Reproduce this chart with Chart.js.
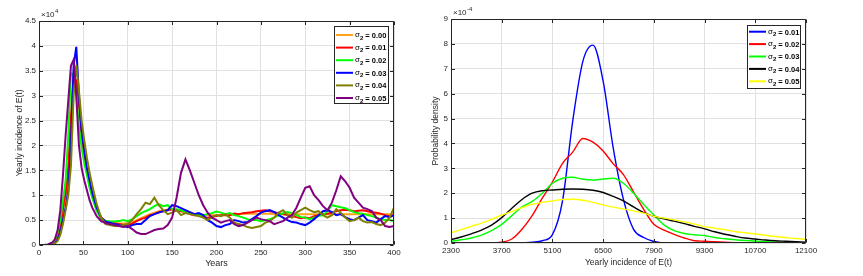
<!DOCTYPE html>
<html>
<head>
<meta charset="utf-8">
<script src="https://cdn.jsdelivr.net/npm/chart.js@4.4.1/dist/chart.umd.min.js"></script>
<style>
html,body{margin:0;padding:0;background:#fff;}
#wrap{position:relative;width:863px;height:276px;overflow:hidden;}
canvas{position:absolute;top:0;}
</style>
</head>
<body>
<div id="wrap">
<canvas id="c1" width="420" height="276" style="left:0;width:420px;height:276px"></canvas>
<canvas id="c2" width="443" height="276" style="left:420px;width:443px;height:276px"></canvas>
</div>
<script>
// ---------- Left chart data (values in units of 10^4) ----------
const years = [0,5,10,15,18,21,24,27,30,33,36,39,42,45,48,51,54,57,60,65,70,75,80,
  85,90,95,100,105,110,115,120,125,130,135,140,145,150,155,160,165,170,175,180,185,190,195,200,
  205,210,215,220,225,230,235,240,245,250,255,260,265,270,275,280,285,290,295,300,
  305,310,315,320,325,330,335,340,345,350,355,360,365,370,375,380,385,390,395,400];

const sigmaLeft = ['0.00','0.01','0.02','0.03','0.04','0.05'];

const incS000 = [0,0,0,0.02,0.06,0.15,0.35,0.7,1.0,1.4,2.4,3.25,3.3,2.9,2.3,1.85,1.5,1.25,1.02,0.72,0.56,0.48,0.45,
  0.44,0.43,0.43,0.44,0.46,0.5,0.54,0.58,0.62,0.65,0.68,0.7,0.71,0.71,0.7,0.69,0.67,0.65,0.63,0.62,0.61,0.6,0.6,0.6,
  0.6,0.61,0.61,0.62,0.62,0.63,0.63,0.63,0.63,0.63,0.63,0.63,0.62,0.62,0.62,0.62,0.62,0.62,0.62,0.62,
  0.62,0.62,0.62,0.62,0.62,0.62,0.62,0.62,0.62,0.62,0.62,0.62,0.62,0.62,0.62,0.62,0.62,0.62,0.62,0.62];
const incS001 = [0,0,0,0.02,0.06,0.16,0.38,0.72,1.05,1.55,2.6,3.4,3.3,2.8,2.2,1.8,1.45,1.2,1.0,0.7,0.55,0.47,0.44,
  0.43,0.42,0.4,0.4,0.43,0.48,0.52,0.55,0.6,0.62,0.66,0.68,0.7,0.72,0.7,0.68,0.66,0.62,0.6,0.6,0.56,0.55,0.57,0.58,
  0.6,0.6,0.6,0.63,0.62,0.64,0.65,0.66,0.68,0.69,0.7,0.68,0.66,0.64,0.62,0.6,0.58,0.56,0.54,0.55,
  0.54,0.58,0.6,0.62,0.63,0.65,0.68,0.7,0.71,0.7,0.68,0.69,0.7,0.68,0.66,0.65,0.63,0.6,0.58,0.6];
const incS002 = [0,0,0,0.03,0.1,0.25,0.5,0.9,1.3,2.2,3.45,3.4,3.0,2.4,1.95,1.65,1.4,1.15,0.95,0.68,0.53,0.48,0.47,
  0.47,0.48,0.5,0.48,0.52,0.58,0.64,0.68,0.72,0.78,0.82,0.78,0.8,0.72,0.72,0.7,0.66,0.64,0.62,0.6,0.6,0.62,0.64,0.67,
  0.65,0.62,0.64,0.6,0.58,0.55,0.52,0.5,0.5,0.48,0.5,0.52,0.55,0.6,0.64,0.66,0.64,0.6,0.56,0.55,
  0.52,0.55,0.58,0.6,0.68,0.8,0.78,0.76,0.74,0.7,0.66,0.64,0.63,0.6,0.58,0.55,0.52,0.5,0.5,0.48];
const incS003 = [0,0,0,0.01,0.04,0.1,0.25,0.5,0.75,1.1,2.0,3.6,3.98,3.0,2.3,1.9,1.55,1.3,1.05,0.75,0.55,0.47,0.45,
  0.42,0.4,0.38,0.36,0.4,0.42,0.42,0.5,0.58,0.62,0.65,0.68,0.7,0.8,0.78,0.74,0.7,0.66,0.62,0.64,0.6,0.5,0.45,0.38,
  0.36,0.4,0.42,0.5,0.48,0.45,0.46,0.52,0.58,0.65,0.68,0.7,0.66,0.6,0.55,0.5,0.46,0.45,0.42,0.4,
  0.45,0.52,0.6,0.68,0.7,0.66,0.6,0.62,0.56,0.52,0.5,0.55,0.6,0.5,0.48,0.45,0.52,0.58,0.56,0.6];
const incS004 = [0,0,0,0.01,0.03,0.08,0.2,0.42,0.7,1.0,1.6,3.0,3.62,3.1,2.5,2.1,1.75,1.45,1.2,0.82,0.55,0.42,0.4,
  0.38,0.38,0.4,0.42,0.5,0.62,0.72,0.85,0.82,0.95,0.8,0.7,0.62,0.65,0.7,0.6,0.64,0.62,0.6,0.58,0.55,0.5,0.56,0.6,
  0.58,0.62,0.55,0.45,0.42,0.4,0.36,0.34,0.36,0.38,0.45,0.48,0.55,0.65,0.7,0.6,0.55,0.65,0.7,0.75,
  0.7,0.66,0.68,0.6,0.55,0.6,0.72,0.65,0.55,0.48,0.5,0.55,0.48,0.45,0.46,0.42,0.4,0.45,0.55,0.75];
const incS005 = [0,0,0.01,0.05,0.12,0.3,0.7,1.4,2.2,2.9,3.6,3.72,3.0,2.0,1.55,1.3,1.1,0.9,0.75,0.58,0.48,0.44,0.42,
  0.4,0.38,0.36,0.38,0.32,0.25,0.22,0.22,0.26,0.3,0.32,0.33,0.4,0.55,0.95,1.45,1.72,1.5,1.25,1.0,0.8,0.65,0.55,0.5,
  0.45,0.48,0.5,0.42,0.38,0.4,0.45,0.5,0.55,0.52,0.5,0.48,0.42,0.45,0.48,0.55,0.6,0.75,0.95,1.15,
  1.18,1.0,0.9,0.78,0.7,0.85,1.1,1.38,1.28,1.15,0.95,0.85,0.75,0.72,0.68,0.55,0.5,0.38,0.36,0.38];

const leftXTicks = [0,50,100,150,200,250,300,350,400];
const leftYTicks = [0,0.5,1,1.5,2,2.5,3,3.5,4,4.5];

// ---------- Right chart data (density in units of 10^-4) ----------
const incidence = [2300,2580,2860,3140,3420,3700,3980,4260,4540,4820,5100,5380,5660,5940,6220,6500,6780,7060,
  7340,7620,7900,8180,8460,8740,9020,9300,9580,9860,10140,10420,10700,10980,11260,11540,11820,12100];

const sigmaRight = ['0.01','0.02','0.03','0.04','0.05'];

const densS001 = [null,null,null,null,null,null,null,0,0.03,0.09,0.34,1.7,4.9,7.3,7.95,6.5,3.8,1.75,
  0.55,0.22,0.06,0,null,null,null,null,null,null,null,null,null,null,null,null,null,null];
const densS002 = [null,null,null,null,0,0.03,0.16,0.55,1.1,1.8,2.45,3.2,3.65,4.2,4.05,3.7,3.18,2.75,
  2.05,1.35,0.75,0.52,0.35,0.2,0.09,0.07,0.05,0.03,0.01,null,null,null,null,null,null,null];
const densS003 = [0.07,0.13,0.2,0.32,0.5,0.75,1.1,1.45,1.67,2.0,2.4,2.6,2.64,2.56,2.53,2.57,2.6,2.4,
  2.0,1.55,1.13,0.73,0.5,0.38,0.33,0.3,0.22,0.17,0.13,0.1,0.08,0.05,0.03,0.02,0.01,0.01];
const densS004 = [0.14,0.24,0.37,0.52,0.72,1.02,1.4,1.75,2.0,2.1,2.13,2.16,2.17,2.16,2.12,2.03,1.87,1.69,
  1.45,1.22,1.07,0.97,0.88,0.78,0.67,0.57,0.45,0.35,0.27,0.2,0.16,0.12,0.09,0.07,0.05,0.03];
const densS005 = [0.41,0.54,0.67,0.8,0.95,1.12,1.27,1.42,1.55,1.63,1.69,1.75,1.76,1.72,1.63,1.53,1.44,1.36,
  1.29,1.2,1.07,1.0,0.93,0.85,0.76,0.66,0.6,0.53,0.46,0.41,0.36,0.31,0.26,0.22,0.18,0.15];

const rightXTicks = [2300,3700,5100,6500,7900,9300,10700,12100];
const rightYTicks = [0,1,2,3,4,5,6,7,8,9];

// ---------- helpers ----------
const FONT = '"Liberation Sans", Arial, Helvetica, sans-serif';
const TXT = '#262626';
Chart.defaults.font.family = FONT;
Chart.defaults.color = TXT;

function pts(xs, ys){ return xs.map((x,i)=>({x:x, y: ys[i] === undefined ? null : ys[i]})); }

const matlabPlugin = {
  id: 'matlab',
  afterDraw(chart, args, opts){
    const ctx = chart.ctx;
    const a = chart.chartArea;
    const xs = chart.scales.x, ys = chart.scales.y;
    ctx.save();
    ctx.strokeStyle = '#262626';
    ctx.lineWidth = 1;
    const L = Math.round(a.left)+0.5, R = Math.round(a.right)-0.5, T = Math.round(a.top)+0.5, B = Math.round(a.bottom)-0.5;
    ctx.beginPath();
    ctx.rect(L, T, R-L, B-T);
    ctx.stroke();
    // inward ticks
    const tl = 3.5;
    ctx.beginPath();
    xs.ticks.forEach(t=>{
      const p = Math.round(xs.getPixelForValue(t.value))+0.5;
      ctx.moveTo(p,B); ctx.lineTo(p,B-tl);
      ctx.moveTo(p,T); ctx.lineTo(p,T+tl);
    });
    ys.ticks.forEach(t=>{
      const p = Math.round(ys.getPixelForValue(t.value))+0.5;
      ctx.moveTo(L,p); ctx.lineTo(L+tl,p);
      ctx.moveTo(R,p); ctx.lineTo(R-tl,p);
    });
    ctx.stroke();
    // exponent label
    ctx.fillStyle = TXT;
    ctx.textBaseline = 'alphabetic';
    ctx.textAlign = 'left';
    ctx.font = '8px ' + FONT;
    const ex = a.left + 2, ey = a.top - 4;
    ctx.fillText('\u00d710', ex, ey);
    const w = ctx.measureText('\u00d710').width;
    ctx.font = '6px ' + FONT;
    ctx.fillText(opts.exponent, ex + w + 0.5, ey - 4);
    // legend
    const lg = opts.legend;
    const ds = chart.data.datasets;
    const bx = a.right - lg.offR - lg.w, by = a.top + lg.offT;
    ctx.fillStyle = '#fff';
    ctx.fillRect(bx, by, lg.w, lg.h);
    ctx.strokeStyle = '#262626';
    ctx.lineWidth = 1;
    ctx.strokeRect(Math.round(bx)+0.5, Math.round(by)+0.5, lg.w, lg.h);
    ds.forEach((d,i)=>{
      const yy = by + lg.first + i*lg.row;
      ctx.strokeStyle = d.borderColor;
      ctx.lineWidth = lg.lw;
      ctx.beginPath();
      ctx.moveTo(bx+2, yy); ctx.lineTo(bx+2+lg.len, yy);
      ctx.stroke();
      let tx = bx + 4 + lg.len;
      ctx.fillStyle = '#000';
      ctx.font = '8px ' + FONT;
      ctx.fillText('\u03c3', tx, yy + 2);
      tx += ctx.measureText('\u03c3').width;
      ctx.font = 'bold 6px ' + FONT;
      ctx.fillText('2', tx, yy + 4.5);
      tx += ctx.measureText('2').width;
      ctx.font = 'bold 7.5px ' + FONT;
      ctx.fillText(' = ' + d.sigma, tx, yy + 2.8);
    });
    ctx.restore();
  }
};

function fixedTicks(arr){ return function(scale){ scale.ticks = arr.map(v=>({value:v})); }; }

// ---------- Left chart ----------
const leftColors = ['#ffa31a','#ff0000','#00ff00','#0000ff','#808000','#800080'];
const leftSeries = [incS000, incS001, incS002, incS003, incS004, incS005];

new Chart(document.getElementById('c1'), {
  type: 'line',
  data: {
    datasets: leftSeries.map((s,i)=>({
      label: '\u03c3\u2082 = ' + sigmaLeft[i],
      sigma: sigmaLeft[i],
      data: pts(years, s),
      borderColor: leftColors[i],
      borderWidth: 2,
      pointRadius: 0,
      tension: 0,
      order: leftSeries.length - i
    }))
  },
  options: {
    responsive: false,
    animation: false,
    devicePixelRatio: 1,
    layout: { padding: { left: 0, right: 26, top: 21, bottom: 0 } },
    plugins: {
      legend: { display: false },
      tooltip: { enabled: false },
      matlab: { exponent: '4', legend: { w: 54, h: 77, offR: 6, offT: 5, first: 9, row: 12.6, len: 17, lw: 2 } }
    },
    scales: {
      x: {
        type: 'linear', min: 0, max: 400,
        afterBuildTicks: fixedTicks(leftXTicks),
        afterFit(s){ s.height = 31; },
        grid: { color: '#e1e1e1', drawTicks: false },
        border: { display: false },
        ticks: { font: { size: 8 }, color: TXT, padding: 3, maxRotation: 0, callback: v => String(v) },
        title: { display: true, text: 'Years', font: { size: 9 }, color: TXT, padding: { top: 0, bottom: 6.6 } }
      },
      y: {
        type: 'linear', min: 0, max: 4.5,
        afterBuildTicks: fixedTicks(leftYTicks),
        afterFit(s){ s.width = 39; },
        grid: { color: '#e1e1e1', drawTicks: false },
        border: { display: false },
        ticks: { font: { size: 8 }, color: TXT, padding: 3, callback: v => String(v) },
        title: { display: true, text: 'Yearly incidence of E(t)', font: { size: 8.5 }, color: TXT, padding: { top: 14.6, bottom: 0 } }
      }
    }
  },
  plugins: [matlabPlugin]
});

// ---------- Right chart ----------
const rightColors = ['#0000ff','#ff0000','#00ff00','#000000','#ffff00'];
const rightSeries = [densS001, densS002, densS003, densS004, densS005];

new Chart(document.getElementById('c2'), {
  type: 'line',
  data: {
    datasets: rightSeries.map((s,i)=>({
      label: '\u03c3\u2082 = ' + sigmaRight[i],
      sigma: sigmaRight[i],
      data: pts(incidence, s),
      borderColor: rightColors[i],
      borderWidth: 1.4,
      pointRadius: 0,
      cubicInterpolationMode: 'monotone',
      spanGaps: false,
      order: rightSeries.length - i
    }))
  },
  options: {
    responsive: false,
    animation: false,
    devicePixelRatio: 1,
    layout: { padding: { left: 0, right: 57, top: 19, bottom: 0 } },
    plugins: {
      legend: { display: false },
      tooltip: { enabled: false },
      matlab: { exponent: '-4', legend: { w: 53, h: 63, offR: 6, offT: 6, first: 6.7, row: 12.4, len: 17, lw: 2 } }
    },
    scales: {
      x: {
        type: 'linear', min: 2300, max: 12100,
        afterBuildTicks: fixedTicks(rightXTicks),
        afterFit(s){ s.height = 33; },
        grid: { color: '#e1e1e1', drawTicks: false },
        border: { display: false },
        ticks: { font: { size: 8 }, color: TXT, padding: 3, maxRotation: 0, autoSkip: false, callback: v => String(v) },
        title: { display: true, text: 'Yearly incidence of E(t)', font: { size: 8.5 }, color: TXT, padding: { top: 0, bottom: 8.6 } }
      },
      y: {
        type: 'linear', min: 0, max: 9,
        afterBuildTicks: fixedTicks(rightYTicks),
        afterFit(s){ s.width = 31; },
        grid: { color: '#e1e1e1', drawTicks: false },
        border: { display: false },
        ticks: { font: { size: 8 }, color: TXT, padding: 3, callback: v => String(v) },
        title: { display: true, text: 'Probability density', font: { size: 8.5 }, color: TXT, padding: { top: 10.3, bottom: 0 } }
      }
    }
  },
  plugins: [matlabPlugin]
});
</script>
</body>
</html>
